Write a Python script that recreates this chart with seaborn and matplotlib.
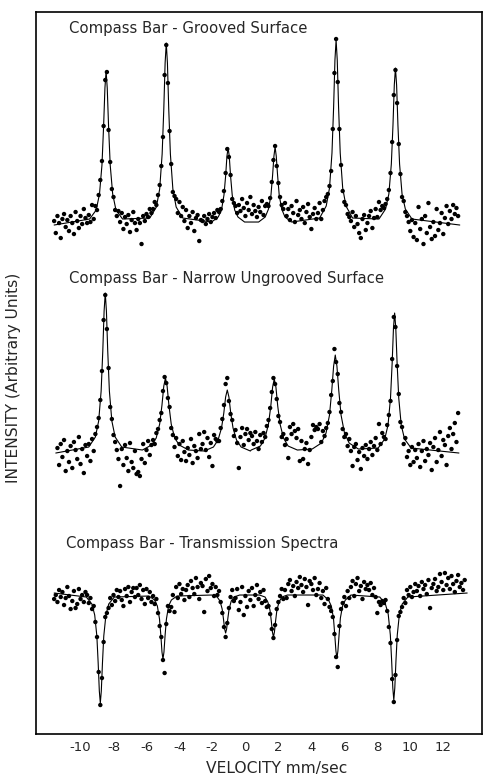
import matplotlib
matplotlib.use("Agg")
import numpy as np
import matplotlib.pyplot as plt
import seaborn as sns

nan = np.nan

# channel velocities (mm/sec), shared by the three spectra
velocity = [
    -11.6, -11.5, -11.4, -11.3, -11.2, -11.1, -11.0, -10.9, -10.8, -10.7,
    -10.6, -10.5, -10.4, -10.3, -10.2, -10.1, -10.0, -9.9, -9.8, -9.7,
    -9.6, -9.5, -9.4, -9.3, -9.2, -9.1, -9.0, -8.9, -8.8, -8.7,
    -8.6, -8.5, -8.4, -8.3, -8.2, -8.1, -8.0, -7.9, -7.8, -7.7,
    -7.6, -7.5, -7.4, -7.3, -7.2, -7.1, -7.0, -6.9, -6.8, -6.7,
    -6.6, -6.5, -6.4, -6.3, -6.2, -6.1, -6.0, -5.9, -5.8, -5.7,
    -5.6, -5.5, -5.4, -5.3, -5.2, -5.1, -5.0, -4.9, -4.8, -4.7,
    -4.6, -4.5, -4.4, -4.3, -4.2, -4.1, -4.0, -3.9, -3.8, -3.7,
    -3.6, -3.5, -3.4, -3.3, -3.2, -3.1, -3.0, -2.9, -2.8, -2.7,
    -2.6, -2.5, -2.4, -2.3, -2.2, -2.1, -2.0, -1.9, -1.8, -1.7,
    -1.6, -1.5, -1.4, -1.3, -1.2, -1.1, -1.0, -0.9, -0.8, -0.7,
    -0.6, -0.5, -0.4, -0.3, -0.2, -0.1, 0.0, 0.1, 0.2, 0.3,
    0.4, 0.5, 0.6, 0.7, 0.8, 0.9, 1.0, 1.1, 1.2, 1.3,
    1.4, 1.5, 1.6, 1.7, 1.8, 1.9, 2.0, 2.1, 2.2, 2.3,
    2.4, 2.5, 2.6, 2.7, 2.8, 2.9, 3.0, 3.1, 3.2, 3.3,
    3.4, 3.5, 3.6, 3.7, 3.8, 3.9, 4.0, 4.1, 4.2, 4.3,
    4.4, 4.5, 4.6, 4.7, 4.8, 4.9, 5.0, 5.1, 5.2, 5.3,
    5.4, 5.5, 5.6, 5.7, 5.8, 5.9, 6.0, 6.1, 6.2, 6.3,
    6.4, 6.5, 6.6, 6.7, 6.8, 6.9, 7.0, 7.1, 7.2, 7.3,
    7.4, 7.5, 7.6, 7.7, 7.8, 7.9, 8.0, 8.1, 8.2, 8.3,
    8.4, 8.5, 8.6, 8.7, 8.8, 8.9, 9.0, 9.1, 9.2, 9.3,
    9.4, 9.5, 9.6, 9.7, 9.8, 9.9, 10.0, 10.1, 10.2, 10.3,
    10.4, 10.5, 10.6, 10.7, 10.8, 10.9, 11.0, 11.1, 11.2, 11.3,
    11.4, 11.5, 11.6, 11.7, 11.8, 11.9, 12.0, 12.1, 12.2, 12.3,
    12.4, 12.5, 12.6, 12.7, 12.8, 12.9, 13.0, 13.1, 13.2, 13.3,
]

# counts relative to each spectrum's base line (arbitrary units)
grooved = [
    0.4, -0.8, 0.9, 0.2, -1.3, 0.6, 1.1, -0.2, 0.5, -0.6,
    0.9, 0.2, -0.9, 1.3, 0.4, -0.3, 0.9, 0.1, 1.6, 0.7,
    0.2, 1.0, 0.3, 2.0, 0.6, 1.9, 1.5, 3.0, 4.5, 6.4,
    9.9, 14.5, 15.3, 9.5, 6.3, 3.6, 2.8, 1.5, 0.9, 1.4,
    0.3, 1.2, -0.4, 0.8, 0.1, 1.0, -0.7, 0.5, 1.3, 0.2,
    -0.5, 0.6, 0.2, -1.9, 0.9, 0.4, 1.1, 0.8, 1.6, 1.2,
    1.6, 2.3, 2.0, 3.0, 4.0, 5.9, 8.8, 15.0, 18.0, 14.2,
    9.4, 6.1, 3.3, 2.9, 2.6, 1.2, 2.3, 0.9, 1.8, 0.4,
    1.5, -0.3, 0.9, 0.2, 1.3, -0.6, 0.7, 1.0, -1.6, 0.5,
    0.4, 0.9, 0.1, 0.6, 1.1, 0.3, 0.8, 1.2, 0.7, 1.5,
    1.3, 1.6, 2.4, 3.4, 5.2, 7.6, 6.8, 5.0, 2.6, 2.2,
    1.9, 1.2, 2.0, 1.4, 2.6, 1.7, 0.9, 2.2, 1.5, 2.8,
    1.1, 2.0, 1.4, 0.8, 1.8, 1.3, 2.4, 1.0, 1.9, 2.1,
    1.9, 2.7, 4.3, 6.5, 7.9, 5.9, 4.2, 2.8, 2.0, 1.6,
    2.2, 0.9, 1.6, 0.5, 1.9, 1.2, 0.3, 2.4, 1.0, 1.5,
    0.6, 1.8, 0.2, 1.3, 2.1, 0.8, -0.4, 1.1, 1.7, 0.6,
    1.2, 2.2, 0.6, 1.5, 2.4, 2.8, 3.1, 3.9, 5.4, 9.6,
    15.2, 18.6, 14.3, 9.6, 6.0, 3.4, 2.3, 2.0, 1.1, 0.8,
    0.4, 1.3, -0.2, 0.9, 0.1, -0.8, -1.3, 0.6, 1.0, -0.5,
    0.2, 0.9, 1.4, -0.3, 0.7, 1.6, 0.8, 2.3, 1.5, 1.9,
    1.7, 2.1, 2.6, 3.5, 5.2, 8.3, 13.0, 15.5, 12.2, 8.1,
    5.1, 2.8, 2.4, 1.3, 0.9, 0.3, -0.6, 0.5, -1.2, 0.2,
    -1.5, 1.8, -0.4, 0.6, -1.9, 0.9, -0.8, 2.2, -0.2, -1.4,
    0.3, -1.1, 1.6, -0.5, 0.2, 1.2, -0.9, 0.7, 1.9, 0.1,
    1.4, 0.6, 2.0, 1.1, 1.7, 0.9, nan, nan, nan, nan,
]

ungrooved = [
    nan, nan, 0.5, -1.2, 0.9, -0.4, 1.3, -1.8, 0.2, -0.9,
    0.7, -1.5, 1.1, 0.3, -0.6, 1.6, -1.1, 0.4, -2.0, 0.8,
    -0.3, 0.9, -0.8, 1.4, 0.2, 1.9, 2.6, 3.5, 5.3, 8.2,
    13.3, 15.8, 12.4, 8.5, 4.6, 3.4, 1.8, 1.1, 0.3, -0.6,
    -3.3, 0.4, -1.2, 0.8, -0.5, -1.8, 1.0, -0.9, -1.5, 0.2,
    -2.1, -1.9, -2.3, -0.6, 0.9, -1.0, 0.3, 1.2, -0.2, 0.8,
    1.3, 0.9, 2.0, 2.4, 3.3, 4.0, 6.2, 7.6, 7.0, 5.5,
    4.6, 2.5, 1.8, 0.6, 1.5, -0.3, 0.9, -0.7, 1.2, 0.1,
    -0.8, 0.5, -0.2, 1.4, -1.0, 0.7, 0.2, -0.5, 1.9, 0.4,
    0.9, 2.1, 0.3, 1.5, -0.4, 1.0, -1.3, 1.8, 1.4, 1.2,
    1.2, 2.5, 3.4, 4.8, 6.9, 7.5, 5.2, 3.9, 3.3, 1.7,
    2.3, 1.0, -1.5, 1.6, 2.5, 0.8, 1.9, 2.4, 1.3, 2.0,
    1.7, 0.9, 2.1, 1.2, 0.4, 1.8, 1.1, 2.0, 1.6, 2.7,
    3.3, 4.5, 6.1, 7.5, 6.9, 5.4, 3.7, 3.1, 1.6, 1.9,
    0.8, 1.4, -0.5, 2.6, 1.9, 2.9, 2.2, 1.5, 2.4, -0.8,
    1.2, -0.6, 0.4, 1.0, -1.1, 0.3, 1.6, 2.8, 2.3, 2.6,
    2.4, 2.9, 1.1, 2.2, 1.7, 2.5, 3.0, 4.1, 5.8, 7.2,
    10.4, 9.1, 7.9, 5.0, 4.1, 2.4, 1.6, 1.9, 0.7, 1.4,
    0.2, -1.3, 0.6, 0.9, -0.7, 0.1, -1.6, 0.5, -0.3, 0.8,
    -0.6, 0.4, 1.1, -0.2, 0.7, 1.5, 0.3, 2.9, 0.9, 2.0,
    1.6, 1.4, 2.8, 3.8, 5.2, 9.4, 13.6, 12.6, 8.7, 5.9,
    3.1, 2.6, 0.9, 1.5, -0.4, 0.2, -1.2, 0.6, -0.9, 0.3,
    -0.5, 0.9, -1.4, 0.2, 1.2, -0.8, 0.4, -0.2, 1.0, -1.7,
    0.6, 1.5, -0.9, 0.3, 2.1, -0.3, 1.3, 0.8, -1.2, 1.7,
    2.5, 0.4, 1.9, 3.0, 1.1, 4.0, nan, nan, nan, nan,
]

transmission = [
    -0.6, -0.2, -0.9, 0.3, -0.4, 0.1, -1.2, -0.5, 0.6, -0.3,
    -1.6, -0.8, 0.2, -1.5, -1.1, 0.4, -0.6, -0.2, -0.9, 0.1,
    -0.2, -1.0, -0.5, -1.6, -1.3, -2.9, -4.4, -7.9, -11.2, -8.5,
    -4.9, -2.4, -2.0, -1.5, -0.5, -1.2, -0.2, -0.8, 0.3, -0.4,
    0.2, -0.7, -1.3, 0.4, -0.3, 0.6, -0.9, 0.1, 0.5, -0.4,
    0.5, -0.2, 0.8, -0.6, 0.3, -1.1, 0.4, -0.5, 0.1, -0.9,
    -0.3, -1.1, -0.6, -2.0, -3.3, -4.4, -6.7, -8.0, -3.1, -1.3,
    -1.8, -1.4, -0.2, -1.9, 0.6, -0.5, 0.9, -0.1, 0.4, -0.7,
    0.3, 0.8, -0.4, 1.2, 0.5, -0.1, 1.5, 0.6, -0.6, 1.0,
    0.7, -1.9, 1.4, 0.2, 1.7, 0.5, 0.9, -0.3, 0.6, -0.2,
    0.2, -0.9, -2.0, -3.4, -4.4, -3.0, -1.5, -0.4, 0.3, -0.8,
    -0.5, 0.4, -1.7, -0.9, 0.6, -2.2, -0.3, -1.4, 0.2, -0.7,
    0.5, -1.3, -0.2, 0.8, -0.6, 0.1, -1.0, 0.3, -0.8, -1.4,
    -1.3, -2.1, -3.6, -4.5, -3.2, -1.6, -0.9, -0.3, 0.4, -0.6,
    0.3, -0.5, 0.9, 1.3, 0.2, 0.7, -0.3, 1.1, 0.5, 1.6,
    0.8, 0.1, 1.4, 0.6, -1.2, 1.2, 0.9, 0.3, 1.5, -0.2,
    0.4, 1.0, -0.5, 0.2, -1.1, 0.5, -0.6, -1.4, -1.8, -2.4,
    -4.1, -6.4, -7.4, -3.3, -1.6, -1.0, -0.4, -1.3, 0.2, -0.5,
    0.6, 1.2, -0.3, 0.9, 1.5, 0.2, 0.7, -0.6, 1.1, 0.4,
    0.8, 0.3, 1.0, -0.2, 0.5, -0.4, -2.0, -0.9, -1.2, -0.8,
    -1.0, -0.7, -1.8, -3.4, -5.0, -8.6, -10.9, -8.2, -4.7, -2.3,
    -1.9, -1.4, -0.5, -1.0, 0.3, -0.2, 0.6, -0.4, 0.1, 0.9,
    0.2, 0.7, -0.3, 1.1, 0.4, 0.8, -0.1, 1.3, -1.5, 0.5,
    0.9, 1.4, 0.2, 0.6, 1.9, 1.1, 0.3, 2.0, 0.8, 1.5,
    0.4, 1.7, 0.9, 0.1, 1.2, 1.8, 0.6, 1.0, 0.3, 1.3,
]

# fitted curves, vertices
grooved_fit_v = [
    -11.6,
    -9.45, -9.05, -8.85, -8.7, -8.6, -8.52, -8.45, -8.38, -8.3, -8.2, -8.05, -7.85, -7.45,
    -5.8, -5.4, -5.2, -5.05, -4.95, -4.87, -4.8, -4.73, -4.65, -4.55, -4.4, -4.2, -3.8,
    -2.05, -1.65, -1.45, -1.3, -1.2, -1.12, -1.05, -0.98, -0.9, -0.8, -0.65, -0.45, -0.05,
    0.8, 1.2, 1.4, 1.55, 1.65, 1.73, 1.8, 1.87, 1.95, 2.05, 2.2, 2.4, 2.8,
    4.5, 4.9, 5.1, 5.25, 5.35, 5.43, 5.5, 5.57, 5.65, 5.75, 5.9, 6.1, 6.5,
    8.1, 8.5, 8.7, 8.85, 8.95, 9.03, 9.1, 9.17, 9.25, 9.35, 9.5, 9.7, 10.1,
    13.0,
]
grooved_fit_i = [
    0.0,
    0.6, 1.5, 3.1, 6.0, 9.9, 13.7, 15.4, 13.7, 9.9, 6.0, 3.1, 1.5, 0.6,
    0.7, 1.8, 3.6, 7.1, 11.6, 16.2, 18.2, 16.2, 11.6, 7.1, 3.6, 1.8, 0.7,
    0.3, 0.8, 1.5, 3.0, 4.9, 6.9, 7.7, 6.9, 4.9, 3.0, 1.5, 0.8, 0.3,
    0.3, 0.8, 1.6, 3.0, 5.0, 6.9, 7.8, 6.9, 5.0, 3.0, 1.6, 0.8, 0.3,
    0.7, 1.9, 3.7, 7.2, 11.8, 16.5, 18.5, 16.5, 11.8, 7.2, 3.7, 1.9, 0.7,
    0.6, 1.6, 3.1, 6.1, 10.0, 14.0, 15.7, 14.0, 10.0, 6.1, 3.1, 1.6, 0.6,
    0.0,
]

ungrooved_fit_v = [
    -11.5,
    -9.5, -9.1, -8.9, -8.75, -8.65, -8.57, -8.5, -8.43, -8.35, -8.25, -8.1, -7.9, -7.5,
    -6.25, -5.69, -5.41, -5.2, -5.06, -4.95, -4.85, -4.75, -4.64, -4.5, -4.29, -4.01, -3.45,
    -2.5, -1.94, -1.66, -1.45, -1.31, -1.2, -1.1, -1.0, -0.89, -0.75, -0.54, -0.26, 0.3,
    0.35, 0.91, 1.19, 1.4, 1.54, 1.65, 1.75, 1.85, 1.96, 2.1, 2.31, 2.59, 3.15,
    4.05, 4.61, 4.89, 5.1, 5.24, 5.35, 5.45, 5.55, 5.66, 5.8, 6.01, 6.29, 6.85,
    8.05, 8.45, 8.65, 8.8, 8.9, 8.98, 9.05, 9.12, 9.2, 9.3, 9.45, 9.65, 10.05,
    12.95,
]
ungrooved_fit_i = [
    0.0,
    0.6, 1.6, 3.2, 6.2, 10.2, 14.2, 16.0, 14.2, 10.2, 6.2, 3.2, 1.6, 0.6,
    0.3, 0.8, 1.5, 2.9, 4.8, 6.7, 7.5, 6.7, 4.8, 2.9, 1.5, 0.8, 0.3,
    0.2, 0.6, 1.3, 2.5, 4.0, 5.6, 6.3, 5.6, 4.0, 2.5, 1.3, 0.6, 0.2,
    0.3, 0.7, 1.5, 2.9, 4.7, 6.6, 7.4, 6.6, 4.7, 2.9, 1.5, 0.7, 0.3,
    0.4, 1.0, 2.0, 3.8, 6.3, 8.7, 9.8, 8.7, 6.3, 3.8, 2.0, 1.0, 0.4,
    0.5, 1.4, 2.8, 5.5, 9.0, 12.5, 14.0, 12.5, 9.0, 5.5, 2.8, 1.4, 0.5,
    0.0,
]

transmission_fit_v = [
    -11.6,
    -9.65, -9.31, -9.14, -9.01, -8.93, -8.86, -8.8, -8.74, -8.67, -8.59, -8.46, -8.29, -7.95,
    -5.85, -5.51, -5.34, -5.21, -5.13, -5.06, -5.0, -4.94, -4.87, -4.79, -4.66, -4.49, -4.15,
    -2.05, -1.71, -1.54, -1.41, -1.33, -1.26, -1.2, -1.14, -1.07, -0.99, -0.86, -0.69, -0.35,
    0.85, 1.19, 1.36, 1.49, 1.57, 1.64, 1.7, 1.76, 1.83, 1.91, 2.04, 2.21, 2.55,
    4.7, 5.04, 5.21, 5.34, 5.42, 5.49, 5.55, 5.61, 5.68, 5.76, 5.89, 6.06, 6.4,
    8.15, 8.49, 8.66, 8.79, 8.87, 8.94, 9.0, 9.06, 9.13, 9.21, 9.34, 9.51, 9.85,
    13.45,
]
transmission_fit_i = [
    0.0,
    -0.4, -1.1, -2.2, -4.3, -7.0, -9.8, -11.0, -9.8, -7.0, -4.3, -2.2, -1.1, -0.4,
    -0.3, -0.7, -1.3, -2.6, -4.2, -5.9, -6.6, -5.9, -4.2, -2.6, -1.3, -0.7, -0.3,
    -0.2, -0.4, -0.8, -1.6, -2.6, -3.6, -4.0, -3.6, -2.6, -1.6, -0.8, -0.4, -0.2,
    -0.2, -0.4, -0.9, -1.7, -2.8, -3.9, -4.4, -3.9, -2.8, -1.7, -0.9, -0.4, -0.2,
    -0.2, -0.7, -1.3, -2.5, -4.2, -5.8, -6.5, -5.8, -4.2, -2.5, -1.3, -0.7, -0.2,
    -0.4, -1.1, -2.1, -4.2, -6.8, -9.5, -10.7, -9.5, -6.8, -4.2, -2.1, -1.1, -0.4,
    0.0,
]

titles = ["Compass Bar - Grooved Surface",
          "Compass Bar - Narrow Ungrooved Surface",
          "Compass Bar - Transmission Spectra"]

sns.set_style("white")
plt.rcParams['font.family'] = ['DejaVu Sans']
plt.rcParams['axes.unicode_minus'] = False

fig = plt.figure(figsize=(4.84, 7.76), dpi=100)
ax = fig.add_axes([0.0744, 0.0541, 0.9215, 0.9304])

# vertical offsets used to stack the three spectra
stack = [
    (grooved, grooved_fit_v, grooved_fit_i, 50.9, (-10.7, 70.6)),
    (ungrooved, ungrooved_fit_v, ungrooved_fit_i, 28.1, (-10.7, 45.6)),
    (transmission, transmission_fit_v, transmission_fit_i, 14.1, (-10.9, 19.1)),
]

for (counts, fit_v, fit_i, base, pos), title in zip(stack, titles):
    sns.scatterplot(x=velocity, y=np.array(counts) + base, s=10, color='black',
                    edgecolor='none', linewidth=0, ax=ax)
    sns.lineplot(x=fit_v, y=np.array(fit_i) + base, sort=False, estimator=None,
                 color='black', lw=0.8, ax=ax)
    ax.text(pos[0], pos[1], title, fontsize=10.7, va='center', ha='left')

ax.set_xlim(-12.7, 14.35)
ax.set_ylim(0, 72.2)
ax.set_xticks(range(-10, 13, 2))
ax.set_yticks([])
ax.tick_params(axis='x', direction='in', length=6, width=1, pad=5, labelsize=9.5)
for sp in ax.spines.values():
    sp.set_color('black')
    sp.set_linewidth(1.2)
    sp.set_visible(True)

fig.text(277 / 484, 1 - 768 / 776, "VELOCITY mm/sec", fontsize=11.2,
         ha='center', va='center')
fig.text(14 / 484, 1 - 378 / 776, "INTENSITY (Arbitrary Units)", fontsize=11.2,
         rotation=90, ha='center', va='center')

fig.savefig("out.png", dpi=100)
